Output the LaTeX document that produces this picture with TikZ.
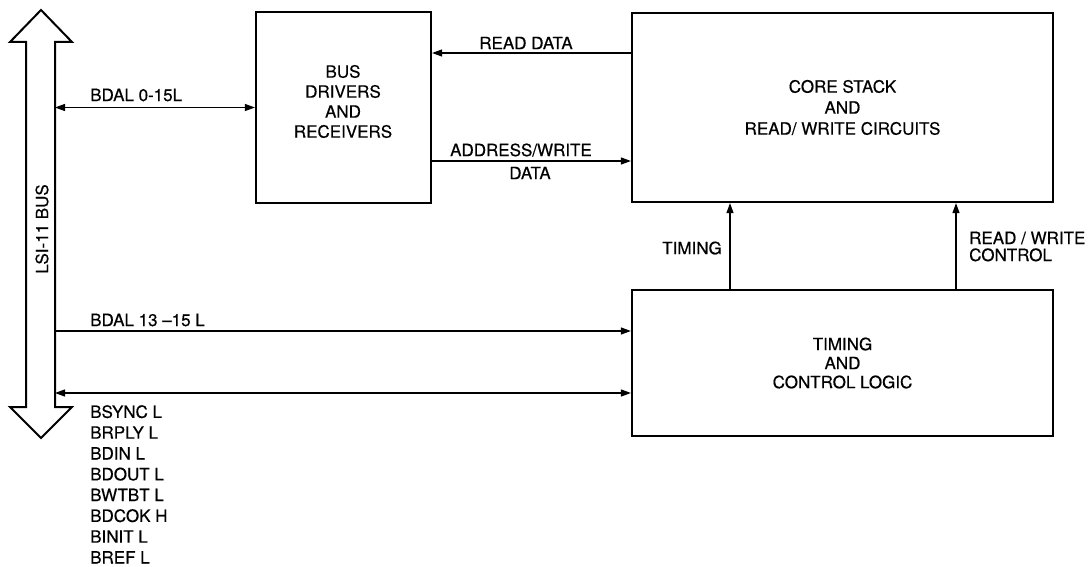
\documentclass[tikz,border=0pt]{standalone}
\usepackage{fontspec}
\setmainfont{TeX Gyre Heros}[FakeBold=0.5]
\usetikzlibrary{arrows.meta}
\begin{document}
\begin{tikzpicture}[x=1pt,y=-1pt,
  box/.style={draw,line width=2.2pt,inner sep=0pt,align=center,font=\fontsize{17}{20}\selectfont},
  lbl/.style={inner sep=0pt,font=\fontsize{17}{20}\selectfont,align=center},
  tip/.tip={Triangle[length=10pt,width=7pt]},
  conn/.style={line width=1.2pt,-tip},
  conn2/.style={line width=1.2pt,tip-tip},
  busline/.style={draw,line width=2pt,line join=miter}
]
\useasboundingbox (0,0) rectangle (1090,567);

% boxes
\node[box,minimum width=175pt,minimum height=191pt] (bd) at (343.5,107.5) {};
\node[lbl] (bdtext) at (343,101.5) {BUS\\DRIVERS\\AND\\RECEIVERS};
\node[box,minimum width=421pt,minimum height=189pt,font=\fontsize{17}{21}\selectfont] (cs) at (842.5,107.5) {CORE STACK\\AND\\READ/ WRITE CIRCUITS};
\node[box,minimum width=421pt,minimum height=146pt,font=\fontsize{17}{19}\selectfont] (tc) at (842.5,363) {TIMING\\AND\\CONTROL LOGIC};

% bus
\path[busline] (41,10) -- (72,42) -- (55,42) -- (55,407) -- (72,407) -- (41,438)
  -- (10,407) -- (26,407) -- (26,42) -- (10,42) -- cycle;
\node[lbl,rotate=90] (bus) at (42,229) {LSI-11 BUS};
\coordinate (b1) at (55,107.5);
\coordinate (b2) at (55,331);
\coordinate (b3) at (55,393);

% helper levels
\coordinate (yrd) at (0,53);
\coordinate (yaw) at (0,161);
\coordinate (xt) at (730,0);
\coordinate (xrw) at (956,0);

% connectors
\draw[conn2] (b1) -- (b1 -| bd.west);
\draw[conn] (cs.west |- yrd) -- (bd.east |- yrd);
\draw[conn] (bd.east |- yaw) -- (cs.west |- yaw);
\draw[conn] (xt |- tc.north) -- (xt |- cs.south);
\draw[conn] (xrw |- tc.north) -- (xrw |- cs.south);
\draw[conn] (b2) -- (b2 -| tc.west);
\draw[conn2] (b3) -- (b3 -| tc.west);

% labels
\node[lbl,anchor=west] (l1) at (90,95) {BDAL 0-15L};
\node[lbl] (l2) at (526,43) {READ DATA};
\node[lbl] (l3) at (521,150) {ADDRESS/WRITE};
\node[lbl] (l4) at (530,173) {DATA};
\node[lbl,anchor=east] (l5) at (722,248) {TIMING};
\node[lbl,anchor=west,align=left,font=\fontsize{17}{17}\selectfont] (l6) at (969,246.5) {READ / WRITE\\CONTROL};
\node[lbl,anchor=west] (l7) at (90,320) {BDAL 13 --15 L};
\node[lbl,anchor=north west,align=left,font=\fontsize{17}{20.8}\selectfont] (l8) at (90,405)
  {BSYNC L\\BRPLY L\\BDIN L\\BDOUT L\\BWTBT L\\BDCOK H\\BINIT L\\BREF L};
\end{tikzpicture}
\end{document}
